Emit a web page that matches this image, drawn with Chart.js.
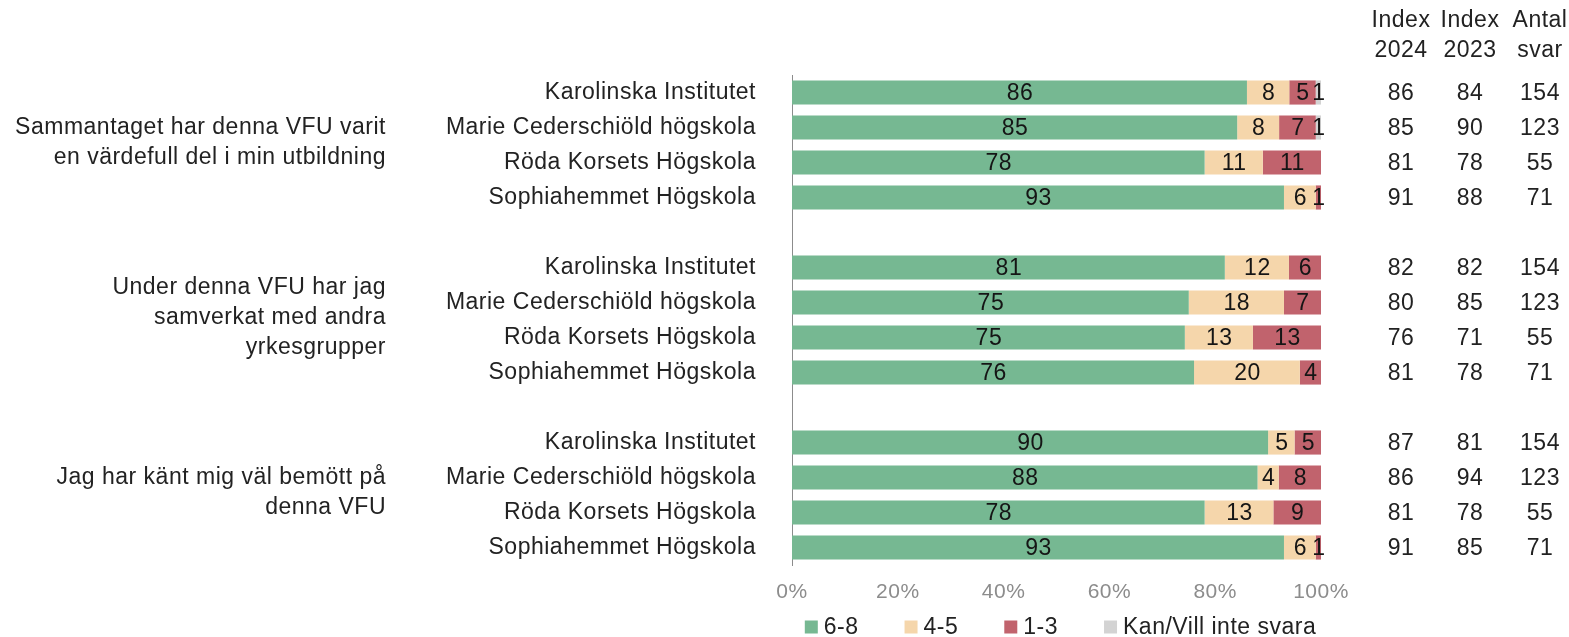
<!DOCTYPE html>
<html>
<head>
<meta charset="utf-8">
<script src="https://cdn.jsdelivr.net/npm/chart.js@4.4.1/dist/chart.umd.min.js"></script>
<style>
  html, body { margin:0; padding:0; background:#fff; }
  #wrap { width:1569px; height:637px; position:relative; }
</style>
</head>
<body>
<div id="wrap"><canvas id="chart" width="1569" height="637"></canvas></div>
<script>
// ============================================================
//  DATA
// ============================================================
var schools = ['Karolinska Institutet', 'Marie Cederschiöld högskola', 'Röda Korsets Högskola', 'Sophiahemmet Högskola'];
// rows in drawing order, '' = blank spacer row between questions
var rowLabels = schools.concat([''], schools, [''], schools);

var questions = [
  ['Sammantaget har denna VFU varit', 'en värdefull del i min utbildning'],
  ['Under denna VFU har jag', 'samverkat med andra', 'yrkesgrupper'],
  ['Jag har känt mig väl bemött på', 'denna VFU']
];
var questionRows = [[0, 3], [5, 8], [10, 13]];

var seriesNames = ['6-8', '4-5', '1-3', 'Kan/Vill inte svara'];
var seriesColors = ['#76B892', '#F5D6AB', '#C1636D', '#D3D3D3'];

var v68  = [86, 85, 78, 93, null, 81, 75, 75, 76, null, 90, 88, 78, 93];
var v45  = [ 8,  8, 11,  6, null, 12, 18, 13, 20, null,  5,  4, 13,  6];
var v13  = [ 5,  7, 11,  1, null,  6,  7, 13,  4, null,  5,  8,  9,  1];
var vKan = [ 1,  1,  0,  0, null,  0,  0,  0,  0, null,  0,  0,  0,  0];

var index2024 = [86, 85, 81, 91, null, 82, 80, 76, 81, null, 87, 86, 81, 91];
var index2023 = [84, 90, 78, 88, null, 82, 85, 71, 78, null, 81, 94, 78, 85];
var antalSvar = [154, 123, 55, 71, null, 154, 123, 55, 71, null, 154, 123, 55, 71];

var xTicks = [0, 20, 40, 60, 80, 100];

var FONT = "'Liberation Sans', Arial, sans-serif";
var TEXT = '#222222';
var SPACING = '0.5px';

// 100% stacked: each row is scaled to its own total
var raw = [v68, v45, v13, vKan];
var totals = v68.map(function(v, i) {
  if (v === null) return null;
  return v68[i] + v45[i] + v13[i] + vKan[i];
});
var datasets = raw.map(function(arr, k) {
  return {
    label: seriesNames[k],
    rawValues: arr,
    data: arr.map(function(v, i) { return v === null ? null : v / totals[i] * 100; }),
    backgroundColor: seriesColors[k],
    borderWidth: 0,
    barPercentage: 0.69,
    categoryPercentage: 1
  };
});

// ============================================================
//  EXTRA DRAWING: bar labels, question text, side table, legend
// ============================================================
var extras = {
  id: 'extras',
  beforeDraw: function(chart) {
    chart.ctx.letterSpacing = SPACING;
  },
  afterDatasetsDraw: function(chart) {
    var ctx = chart.ctx;
    ctx.save();
    ctx.letterSpacing = SPACING;
    ctx.font = '23px ' + FONT;
    ctx.fillStyle = '#151515';
    ctx.textAlign = 'center';
    ctx.textBaseline = 'middle';
    chart.data.datasets.forEach(function(ds, k) {
      var meta = chart.getDatasetMeta(k);
      meta.data.forEach(function(bar, i) {
        var v = ds.rawValues[i];
        if (!v) return;
        ctx.fillText(String(v), (bar.x + bar.base) / 2 + 0.5, bar.y + 1);
      });
    });
    ctx.restore();
  },
  afterDraw: function(chart) {
    var ctx = chart.ctx;
    var y = chart.scales.y;
    var area = chart.chartArea;
    ctx.save();
    ctx.letterSpacing = SPACING;
    ctx.font = '23px ' + FONT;
    ctx.fillStyle = TEXT;
    ctx.textBaseline = 'middle';

    // question text, right aligned, centred on its rows
    ctx.textAlign = 'right';
    questions.forEach(function(lines, q) {
      var mid = (y.getPixelForValue(questionRows[q][0]) + y.getPixelForValue(questionRows[q][1])) / 2 - 2;
      var top = mid - (lines.length - 1) * 30 / 2;
      lines.forEach(function(t, j) { ctx.fillText(t, 386, top + j * 30); });
    });

    // side table
    ctx.textAlign = 'center';
    var cols = [
      { x: area.right + 80,  head: ['Index', '2024'], vals: index2024 },
      { x: area.right + 149, head: ['Index', '2023'], vals: index2023 },
      { x: area.right + 219, head: ['Antal', 'svar'], vals: antalSvar }
    ];
    cols.forEach(function(c) {
      ctx.fillText(c.head[0], c.x, 21);
      ctx.fillText(c.head[1], c.x, 51);
      c.vals.forEach(function(v, i) {
        if (v === null) return;
        ctx.fillText(String(v), c.x, y.getPixelForValue(i) + 1);
      });
    });

    // legend
    var box = 13, gapText = 6, gapItem = 46, ly = 627;
    var widths = seriesNames.map(function(n) { return box + gapText + ctx.measureText(n).width; });
    var total = widths.reduce(function(a, b) { return a + b; }, 0) + gapItem * (widths.length - 1);
    var lx = (area.left + area.right) / 2 - total / 2 + 4;
    ctx.textAlign = 'left';
    seriesNames.forEach(function(n, k) {
      ctx.fillStyle = seriesColors[k];
      ctx.fillRect(lx, ly - box / 2, box, box);
      ctx.fillStyle = TEXT;
      ctx.fillText(n, lx + box + gapText, ly + 1);
      lx += widths[k] + gapItem;
    });
    ctx.restore();
  }
};

// ============================================================
//  CHART
// ============================================================
new Chart(document.getElementById('chart'), {
  type: 'bar',
  data: { labels: rowLabels, datasets: datasets },
  options: {
    indexAxis: 'y',
    responsive: false,
    animation: false,
    layout: { padding: { top: 75, right: 248, bottom: 0, left: 0 } },
    plugins: { legend: { display: false }, tooltip: { enabled: false } },
    scales: {
      x: {
        stacked: true,
        min: 0,
        max: 100,
        afterBuildTicks: function(s) { s.ticks = xTicks.map(function(v) { return { value: v }; }); },
        afterFit: function(s) { s.height = 72; },
        grid: { display: false, drawTicks: false },
        border: { display: false },
        ticks: {
          padding: 15,
          color: '#8C8C8C',
          font: { family: FONT, size: 21 },
          callback: function(v) { return v + '%'; }
        }
      },
      y: {
        stacked: true,
        afterFit: function(s) { s.width = 792; },
        grid: { display: false, drawTicks: false },
        border: { display: true, color: '#8C8C8C', width: 1 },
        ticks: {
          padding: 36,
          color: TEXT,
          autoSkip: false,
          font: { family: FONT, size: 23 }
        }
      }
    }
  },
  plugins: [extras]
});
</script>
</body>
</html>
